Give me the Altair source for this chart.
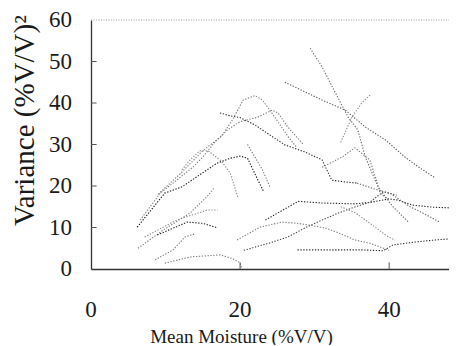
import altair as alt
import pandas as pd

# ---- data (x = mean moisture %V/V, y = variance) ----
s01_x = [9, 12, 15, 17.5, 19, 20.4, 22, 23, 24.5, 26.4, 27.5]
s01_y = [18, 23, 28.5, 32, 36, 40.7, 41.8, 40.7, 37, 32, 29.5]
s02_x = [6.6, 9.3, 11.5, 13.7, 15, 16.6, 18.3, 20, 22.4, 24.3, 25.1, 26.4, 28.5]
s02_y = [11.8, 18.3, 21.4, 24.6, 27, 30.5, 33.5, 35.5, 36.6, 38.3, 37.6, 34.2, 30]
s03_x = [6.2, 9.9, 12.2, 14.6, 16.9, 18.7, 20, 21, 22.4, 23.2]
s03_y = [10.1, 18.3, 19.8, 22.7, 25.5, 26.7, 27.2, 26.7, 21.4, 18.5]
s04_x = [17.3, 18.7, 20, 22, 24, 26, 28.7, 31, 32.3, 34, 35.7]
s04_y = [37.6, 36.9, 36.5, 34.7, 32.3, 29.9, 28.2, 26.3, 21.4, 21, 20.7]
s05_x = [29.4, 31, 32.8, 34.5, 35.8, 36.8, 38.5, 40.5, 42.6]
s05_y = [53.2, 48.7, 42.4, 36.6, 33.5, 27, 19.8, 15, 11.3]
s06_x = [26, 28.7, 31, 34.1, 36.8, 39.5, 42.1, 44, 46.2]
s06_y = [45, 42.7, 40.7, 38.3, 34.2, 31.1, 27, 24.5, 21.9]
s07_x = [33.5, 35, 36.4, 37.5]
s07_y = [30.5, 36.6, 40.2, 42]
s08_x = [23.4, 27.8, 31, 35.4, 37.7, 39.9, 41.2, 43.1, 45.8, 48.5]
s08_y = [11.8, 16.3, 15.9, 15.7, 16.1, 16.9, 16.6, 15.4, 14.9, 14.7]
s09_x = [20.5, 24, 26.4, 28.7, 31, 33.2, 35, 37.4, 39.2, 41]
s09_y = [4.5, 6.3, 7.7, 9.9, 11.8, 13.5, 14.7, 16.1, 18.6, 17.8]
s10_x = [19.6, 22.7, 25.6, 27.8, 31.4, 33.2, 35.4, 37.4, 40]
s10_y = [7, 10.1, 11.3, 11, 9.9, 8.7, 7, 6.2, 4.5]
s11_x = [27.7, 33, 36.4, 39.2, 40.5, 43.5, 46.2, 48.5]
s11_y = [4.6, 4.6, 4.6, 4.4, 5.8, 6.5, 7, 7.3]
s12_x = [35.7, 38.5, 40.1, 42.8, 44.5, 46.8]
s12_y = [20.7, 19, 18.3, 15, 13.5, 11.3]
s13_x = [33.5, 35.5, 37.2, 39.9, 40.8]
s13_y = [15, 13.5, 11.3, 7.7, 7]
s14_x = [6.3, 9.7, 13.3, 15.6, 16.5]
s14_y = [5, 9.4, 13.5, 17.5, 19.5]
s15_x = [7.2, 11.5, 15.6, 17]
s15_y = [7.7, 11.8, 14.2, 14.2]
s16_x = [8.9, 12.9, 15, 17]
s16_y = [8.2, 11.3, 11, 9.9]
s17_x = [8.6, 11, 12.6, 14]
s17_y = [2.2, 4.6, 7.7, 8.5]
s18_x = [9.9, 13.3, 17.3, 19, 20, 20.2]
s18_y = [1.4, 2.9, 3.4, 2.5, 1.5, 0.3]
s19_x = [12.2, 13.3, 14.6, 15.7, 17.5, 18.7, 19.7]
s19_y = [23.9, 26.3, 28.5, 28.5, 26, 23, 17.3]
s20_x = [21, 23, 24]
s20_y = [30, 23.9, 19.8]
s21_x = [31, 33.7, 35.4, 37.4, 38.4, 38.8, 40]
s21_y = [24.5, 27, 29.2, 26.3, 20.7, 18.3, 16.5]

series_x = [s01_x, s02_x, s03_x, s04_x, s05_x, s06_x, s07_x, s08_x, s09_x, s10_x, s11_x,
            s12_x, s13_x, s14_x, s15_x, s16_x, s17_x, s18_x, s19_x, s20_x, s21_x]
series_y = [s01_y, s02_y, s03_y, s04_y, s05_y, s06_y, s07_y, s08_y, s09_y, s10_y, s11_y,
            s12_y, s13_y, s14_y, s15_y, s16_y, s17_y, s18_y, s19_y, s20_y, s21_y]
series_names = ["S%02d" % (i + 1) for i in range(len(series_x))]

x_ticks = [0, 20, 40]
y_ticks = [0, 10, 20, 30, 40, 50, 60]
y_inner_ticks = [10, 20, 30, 40, 50]
x_inner_ticks = [20, 40]

rows = []
for name, xs_, ys_ in zip(series_names, series_x, series_y):
    for i, (xv, yv) in enumerate(zip(xs_, ys_)):
        rows.append({"series": name, "x": xv, "y": yv, "i": i})
df = pd.DataFrame(rows)

series_colors = ["#7a7a7a", "#7a7a7a", "#111111", "#2a2a2a", "#6a6a6a", "#5a5a5a", "#8a8a8a",
                 "#222222", "#444444", "#7a7a7a", "#2a2a2a", "#666666", "#888888", "#7a7a7a",
                 "#888888", "#1a1a1a", "#7a7a7a", "#7a7a7a", "#888888", "#7a7a7a", "#777777"]

XMAX = 49.1
xs = alt.Scale(domain=[0, XMAX], nice=False, zero=False)
ys = alt.Scale(domain=[0, 60], nice=False)
FONT = "Liberation Serif"

# axis lines only; tick labels are drawn as text through the same scales
ax_x = alt.Axis(
    values=x_ticks, ticks=False, tickSize=0, grid=False, domainColor="#333333",
    domainWidth=1.3, labels=False,
    title="Mean Moisture (%V/V)", titleFont=FONT, titleFontSize=19,
    titleFontWeight="normal", titleColor="#1a1a1a", titleX=150, titleY=73,
    titleAlign="center", titleBaseline="alphabetic")
ax_y = alt.Axis(
    values=y_ticks, ticks=False, tickSize=0, grid=False, domainColor="#333333",
    domainWidth=1.3, labels=False,
    title="Variance (%V/V)²", titleFont=FONT, titleFontSize=29,
    titleFontWeight="normal", titleColor="#1a1a1a", titleX=-58, titleY=100,
    titleAlign="center", titleBaseline="alphabetic", titleAngle=270)

lines = alt.Chart(df).mark_line(strokeWidth=1.1, strokeDash=[1.3, 1.6], clip=True).encode(
    x=alt.X("x:Q", scale=xs, axis=ax_x),
    y=alt.Y("y:Q", scale=ys, axis=ax_y),
    color=alt.Color("series:N", scale=alt.Scale(domain=series_names, range=series_colors), legend=None),
    order=alt.Order("i:Q"),
)

top_border = alt.Chart(pd.DataFrame({"y": [60]})).mark_rule(
    color="#999999", strokeWidth=1, strokeDash=[1, 1.5]).encode(
    y=alt.Y("y:Q", scale=ys, axis=ax_y))

ytick_df = pd.DataFrame({"y": y_inner_ticks, "x": [0] * len(y_inner_ticks), "x1": [0.75] * len(y_inner_ticks)})
ytick_layer = alt.Chart(ytick_df).mark_rule(color="#555555", strokeWidth=1).encode(
    x=alt.X("x:Q", scale=xs, axis=ax_x), x2="x1:Q", y=alt.Y("y:Q", scale=ys, axis=ax_y))

xtick_df = pd.DataFrame({"x": x_inner_ticks, "y": [0] * len(x_inner_ticks), "y1": [1.6] * len(x_inner_ticks)})
xtick_layer = alt.Chart(xtick_df).mark_rule(color="#555555", strokeWidth=1).encode(
    x=alt.X("x:Q", scale=xs, axis=ax_x), y=alt.Y("y:Q", scale=ys, axis=ax_y), y2="y1:Q")

ylab_df = pd.DataFrame({"y": y_ticks, "x": [0] * len(y_ticks), "t": [str(v) for v in y_ticks]})
ylab_layer = alt.Chart(ylab_df).mark_text(
    font=FONT, fontSize=23, color="#1a1a1a", align="right", baseline="middle", dx=-19, clip=False
).encode(x=alt.X("x:Q", scale=xs, axis=ax_x), y=alt.Y("y:Q", scale=ys, axis=ax_y), text="t:N")

xlab_df = pd.DataFrame({"x": x_ticks, "y": [0] * len(x_ticks), "t": [str(v) for v in x_ticks]})
xlab_layer = alt.Chart(xlab_df).mark_text(
    font=FONT, fontSize=23, color="#1a1a1a", align="center", baseline="top", dy=30, clip=False
).encode(x=alt.X("x:Q", scale=xs, axis=ax_x), y=alt.Y("y:Q", scale=ys, axis=ax_y), text="t:N")

chart = alt.layer(lines, top_border, ytick_layer, xtick_layer, ylab_layer, xlab_layer).properties(
    width=366, height=249,
    autosize=alt.AutoSizeParams(type="none"),
    padding={"left": 83, "top": 12, "right": -8, "bottom": 76},
    background="white",
).configure_view(stroke=None)

chart.save("out.html", embed_options={"renderer": "svg", "actions": False})
